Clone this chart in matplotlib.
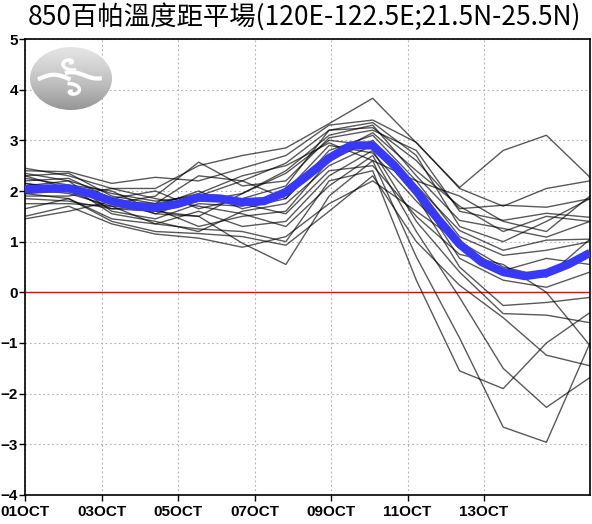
import numpy as np
import matplotlib
matplotlib.use("Agg")
import matplotlib.pyplot as plt
from matplotlib.patches import Ellipse

# forecast valid times (day of October) of each ensemble step
days = [1.0, 2.14, 3.27, 4.41, 5.54, 6.68, 7.82, 8.95, 10.09, 11.23, 12.36, 13.5, 14.63, 15.77]

# ensemble members, 850hPa temperature anomaly
members = [
    [2.45, 2.30, 2.05, 2.05, 2.50, 2.70, 2.85, 3.33, 3.83, 2.95, 2.07, 2.80, 3.10, 2.27],
    [2.40, 2.38, 2.15, 2.27, 2.20, 2.45, 2.70, 3.30, 3.40, 2.96, 2.05, 1.70, 2.05, 2.20],
    [2.35, 2.20, 1.95, 1.80, 1.90, 2.20, 2.55, 3.20, 3.25, 2.60, 1.65, 1.72, 1.68, 1.85],
    [2.30, 2.05, 1.75, 1.90, 2.57, 2.10, 2.20, 3.05, 3.20, 2.80, 1.60, 1.42, 1.56, 1.48],
    [2.25, 2.12, 2.00, 1.60, 1.80, 1.95, 2.40, 3.10, 3.30, 2.30, 1.42, 1.26, 1.09, 1.40],
    [2.20, 2.25, 1.85, 1.55, 1.50, 1.95, 2.35, 3.00, 2.90, 2.10, 1.22, 0.83, 1.03, 1.05],
    [2.15, 2.00, 1.65, 1.70, 2.00, 1.65, 1.85, 2.80, 3.10, 2.20, 1.10, 0.73, 0.83, 1.00],
    [2.10, 2.20, 1.60, 1.45, 1.75, 1.70, 2.00, 2.90, 2.75, 1.80, 0.95, 0.43, 0.67, 0.55],
    [2.05, 1.95, 1.70, 1.65, 1.30, 1.50, 1.60, 2.60, 3.00, 2.00, 0.67, 0.24, 0.10, 0.40],
    [2.00, 2.10, 1.55, 1.40, 1.20, 1.60, 1.75, 2.50, 2.90, 1.90, 0.50, -0.26, -0.20, -0.10],
    [1.95, 1.85, 1.45, 1.35, 1.60, 1.30, 1.40, 2.30, 2.80, 1.40, 0.40, -0.42, -0.45, -0.60],
    [1.90, 1.90, 2.05, 1.85, 1.70, 1.55, 1.30, 2.10, 2.70, 1.20, -0.10, -1.50, -2.27, -1.68],
    [1.85, 1.80, 1.65, 1.60, 1.50, 0.97, 0.55, 1.90, 2.60, 0.70, -0.90, -2.66, -2.96, -1.00],
    [1.75, 1.75, 1.70, 1.35, 1.25, 1.20, 1.00, 2.20, 2.40, 0.24, -1.55, -1.90, -1.00, -0.40],
    [1.65, 1.85, 1.40, 1.20, 1.16, 1.10, 0.93, 1.60, 2.30, 1.00, 0.14, -0.50, -1.24, -1.45],
    [1.50, 1.70, 1.35, 1.15, 1.07, 0.89, 1.10, 1.75, 2.20, 1.60, 1.00, 0.50, 0.30, 1.05],
    [1.45, 1.60, 1.80, 1.75, 1.95, 2.30, 2.50, 2.95, 2.60, 2.20, 1.90, 1.40, 1.20, 1.90],
    [2.30, 2.35, 1.90, 1.75, 2.30, 2.20, 1.85, 2.70, 3.15, 2.40, 1.70, 1.20, 1.50, 1.40],
    [2.15, 2.05, 1.85, 2.00, 1.65, 1.85, 2.10, 3.20, 3.35, 2.70, 1.30, 1.00, 1.40, 1.85],
    [1.95, 2.00, 1.80, 1.55, 1.85, 1.75, 1.55, 2.40, 2.50, 1.50, 0.75, 0.55, 0.00, -1.05],
]

# smoothed ensemble mean (read at half steps)
mean_days = [1.0, 1.57, 2.14, 2.70, 3.27, 3.84, 4.41, 4.97, 5.54, 6.11, 6.68, 7.25, 7.82, 8.38,
             8.95, 9.52, 10.09, 10.66, 11.23, 11.79, 12.36, 12.93, 13.5, 14.07, 14.63, 15.2, 15.77]
mean_vals = [2.03, 2.05, 2.05, 1.95, 1.80, 1.70, 1.67, 1.74, 1.87, 1.85, 1.78, 1.80, 1.98, 2.30,
             2.65, 2.90, 2.90, 2.50, 2.00, 1.45, 0.95, 0.60, 0.40, 0.32, 0.38, 0.55, 0.78]

tick_days = [1, 3, 5, 7, 9, 11, 13]
tick_labels = ["01OCT", "03OCT", "05OCT", "07OCT", "09OCT", "11OCT", "13OCT"]
title = "850百帕溫度距平場(120E-122.5E;21.5N-25.5N)"

plt.rcParams['font.family'] = ['Liberation Sans', 'DejaVu Sans']

fig = plt.figure(figsize=(5.92, 5.24), dpi=100)
ax = fig.add_axes([25 / 592, 1 - 495 / 524, 565 / 592, 456 / 524])

for m in members:
    ax.plot(days, m, color='black', lw=1.0, alpha=0.65, zorder=3)
ax.plot(mean_days, mean_vals, color='#3838f8', lw=6, solid_joinstyle='round',
        solid_capstyle='butt', zorder=4)
ax.axhline(0, color='red', lw=1.0, zorder=2)

ax.set_xlim(1, 15.77)
ax.set_ylim(-4, 5)
ax.set_xticks(tick_days)
ax.set_xticklabels(tick_labels)
ax.set_yticks(range(-4, 6))
ax.tick_params(direction='out', length=4, width=1, labelsize=11)
ax.tick_params(axis='x', pad=3)
ax.tick_params(axis='y', pad=1)
for lab in ax.get_xticklabels() + ax.get_yticklabels():
    lab.set_fontweight('bold')
ax.grid(True, color='#b0b0b0', lw=0.8, linestyle=(0, (1.5, 2.5)), zorder=1)
for s in ax.spines.values():
    s.set_linewidth(1.2)

fig.text(28 / 592, 1 - 3 / 524, title, ha='left', va='top', fontsize=19,
         family=['Noto Sans CJK TC', 'DejaVu Sans'])

# logo
lax = fig.add_axes([30 / 592, 1 - 110 / 524, 82 / 592, 63 / 524])
lax.set_xlim(0, 1)
lax.set_ylim(0, 1)
lax.axis('off')
ell = Ellipse((0.5, 0.5), 1.0, 1.0, facecolor='none', edgecolor='none')
lax.add_patch(ell)
grad = np.linspace(0, 1, 64).reshape(-1, 1)
im = lax.imshow(grad, extent=(0, 1, 0, 1), cmap='Greys', vmin=-0.6, vmax=2.6,
                origin='upper', aspect='auto')
im.set_clip_path(ell)
t = np.linspace(0, 1, 50)
lax.plot(0.12 + 0.35 * t, 0.5 + 0.06 * np.sin(t * 3.2), color='white', lw=3)
lax.plot(0.45 + 0.4 * t, 0.55 + 0.05 * np.sin(t * 4 + 1), color='white', lw=3)
ang = np.linspace(0, 5, 60)
lax.plot(0.5 + 0.03 * ang * np.cos(ang), 0.75 + 0.03 * ang * np.sin(ang) * 0.8, color='white', lw=2.5)
lax.plot(0.5 + 0.03 * ang * np.cos(ang + 3), 0.3 + 0.03 * ang * np.sin(ang + 3) * 0.8, color='white', lw=2.5)

fig.savefig('out.png', dpi=100)
